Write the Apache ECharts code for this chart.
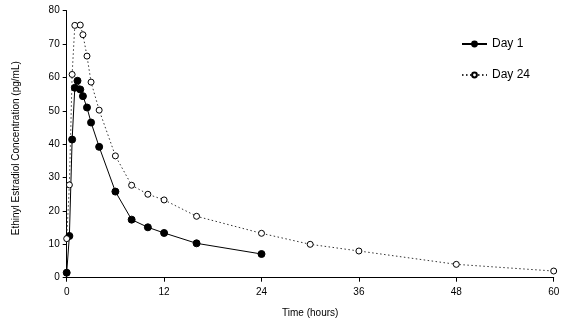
<!DOCTYPE html>
<html><head><meta charset="utf-8">
<script src="https://cdn.jsdelivr.net/npm/echarts@6/dist/echarts.min.js"></script>
<style>html,body{margin:0;padding:0;background:#fff}#c{width:573px;height:328px}</style>
</head><body><div id="c"></div>
<script>
var seriesNames = ['Day 1', 'Day 24'];
var day1Times = [0, 0.33, 0.67, 1, 1.33, 1.67, 2, 2.5, 3, 4, 6, 8, 10, 12, 16, 24];
var day1Values = [1.5, 12.5, 41.4, 56.9, 59.0, 56.4, 54.4, 51.0, 46.5, 39.2, 25.8, 17.4, 15.1, 13.4, 10.3, 7.1];
var day24Times = [0, 0.33, 0.67, 1, 1.67, 2, 2.5, 3, 4, 6, 8, 10, 12, 16, 24, 30, 36, 48, 60];
var day24Values = [11.7, 27.8, 60.9, 75.6, 75.7, 72.8, 66.4, 58.6, 50.2, 36.5, 27.7, 25.0, 23.3, 18.4, 13.3, 10.0, 8.0, 4.0, 2.0];
var xTicks = [0, 12, 24, 36, 48, 60];
var yTicks = [0, 10, 20, 30, 40, 50, 60, 70, 80];
var xTitle = 'Time (hours)';
var yTitle = 'Ethinyl Estradiol Concentration (pg/mL)';

function pairs(t, v) { return t.map(function (x, i) { return [x, v[i]]; }); }
var FONT = 'Liberation Sans, Arial, sans-serif';
var chart = echarts.init(document.getElementById('c'), null, {renderer: 'canvas'});
chart.setOption({
  animation: false,
  backgroundColor: '#fff',
  grid: {left: 66.7, right: 19.3, top: 10.7, bottom: 50.3, containLabel: false, outerBoundsMode: 'none'},
  legend: {
    orient: 'vertical', left: 456, top: 33, itemWidth: 25, itemHeight: 6, itemGap: 19,
    textStyle: {fontFamily: FONT, fontSize: 12, color: '#000'},
    data: seriesNames
  },
  xAxis: {
    type: 'value', min: xTicks[0], max: xTicks[xTicks.length - 1], interval: 12,
    name: xTitle, nameLocation: 'middle', nameGap: 31,
    nameTextStyle: {fontFamily: FONT, fontSize: 10, color: '#000'},
    axisLine: {show: true, onZero: false, lineStyle: {color: '#000', width: 1}},
    axisTick: {show: true, length: 4, lineStyle: {color: '#000'}},
    axisLabel: {fontFamily: FONT, fontSize: 10, color: '#000', margin: 10},
    splitLine: {show: false}
  },
  yAxis: {
    type: 'value', min: yTicks[0], max: yTicks[yTicks.length - 1], interval: 10,
    name: yTitle, nameLocation: 'middle', nameGap: 45,
    nameTextStyle: {fontFamily: FONT, fontSize: 10, color: '#000', padding: [0, 8, 0, 0]},
    axisLine: {show: true, onZero: false, lineStyle: {color: '#000', width: 1}},
    axisTick: {show: true, length: 4, lineStyle: {color: '#000'}},
    axisLabel: {fontFamily: FONT, fontSize: 10, color: '#000', margin: 7},
    splitLine: {show: false}
  },
  series: [
    {
      name: seriesNames[0], type: 'line', data: pairs(day1Times, day1Values),
      symbol: 'circle', symbolSize: 7, showAllSymbol: true,
      lineStyle: {color: '#000', width: 1},
      itemStyle: {color: '#000', borderColor: '#000', borderWidth: 1}
    },
    {
      name: seriesNames[1], type: 'line', data: pairs(day24Times, day24Values),
      symbol: 'circle', symbolSize: 6, showAllSymbol: true,
      lineStyle: {color: '#333', width: 1, type: [1.5, 2.5]},
      itemStyle: {color: '#fff', borderColor: '#000', borderWidth: 1}
    }
  ]
});
</script></body></html>
